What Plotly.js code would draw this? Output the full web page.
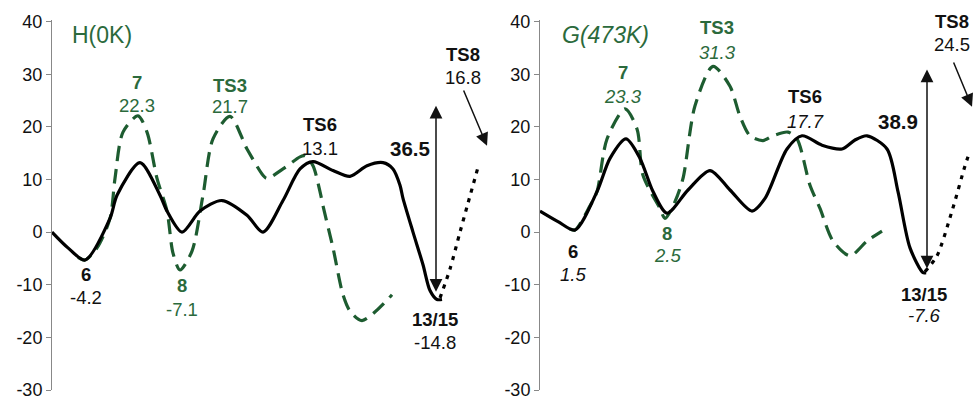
<!DOCTYPE html>
<html>
<head>
<meta charset="utf-8">
<script src="https://cdn.plot.ly/plotly-3.0.1.min.js"></script>
<style>html,body{margin:0;padding:0;background:#fff}#chart{width:974px;height:400px}</style>
</head>
<body>
<div id="chart"></div>
<script>
// ---- Left panel H(0K): reaction coordinate (arbitrary units) and energies ----
var hBlackX = [0,16,33,58,65,88,108,115,130,148,170,195,211,231,248,261,281,298,315,331,341,348,351,361,371,378,385,390];
var hBlackY = [0,-3,-5.3,2.6,7,13.2,7,4,0,4,6,3.2,0,6,12,13.4,11.7,10.6,12.6,13.2,12,8.9,6.4,0,-6.2,-11.1,-12.8,-12.8];
var hDotX = [388,398,408,416,426];
var hDotY = [-12.5,-7,0,5.5,12.3];
var hGreenX = [26,33,45,58,63,71,86,95,105,115,121,128,140,151,161,178,195,211,215,231,248,253,261,268,271,281,291,298,310,340];
var hGreenY = [-4.8,-5.3,-3,2.6,10.2,19,22.1,19,10.2,4,-4,-7.2,-3.6,7,17.7,22,15.8,10.8,10.2,12,14.3,14.5,12.6,7.7,5,-3,-11.9,-15,-16.8,-11.9];

// ---- Right panel G(473K) ----
var gBlackX = [0,18,35,57,70,86,100,113,127,148,170,190,212,225,247,262,282,302,315,327,347,358,370,383,386];
var gBlackY = [4.0,2,0.4,7.7,14,17.7,14,7.7,3.6,8,11.7,8,4,6.4,15.8,18.3,16.5,15.8,17.5,18.3,15.8,7.7,-3,-7.7,-7.7];
var gDotX = [385,397,412,425,428];
var gDotY = [-7.5,-4.5,4,12.6,14.3];
var gGreenX = [30,35,50,57,67,85,97,103,120,125,135,143,155,173,190,200,210,223,233,248,257,270,280,293,310,327,342];
var gGreenY = [0.6,0.4,5,7.7,17.7,23.4,19.6,10.8,4.5,2.6,5.8,10.2,24,31.5,27.7,22,18.3,17.4,18.3,19,17.7,8.9,4.5,-1.7,-4.5,-1.7,0.2];

var yTicks = [-30,-20,-10,0,10,20,30,40];
var tickText = ['-30','-20','-10','0','10','20','30','40'];

var labelsH = [
  {name:'7', val:'22.3', x:85, yn:28.5, yv:24.0, c:'g'},
  {name:'TS3', val:'21.7', x:178, yn:27.9, yv:23.8, c:'g'},
  {name:'TS6', val:'13.1', x:268, yn:20.4, yv:15.8, c:'k'},
  {name:'TS8', val:'16.8', x:411, yn:33.8, yv:29.4, c:'k'},
  {name:'6', val:'-4.2', x:34, yn:-8.1, yv:-12.5, c:'k'},
  {name:'8', val:'-7.1', x:130, yn:-10.2, yv:-14.7, c:'g'},
  {name:'13/15', val:'-14.8', x:383, yn:-16.6, yv:-20.9, c:'k'}
];
var labelsG = [
  {name:'7', val:'23.3', x:83, yn:30.4, yv:25.8, c:'g', it:true},
  {name:'TS3', val:'31.3', x:177, yn:38.9, yv:34.2, c:'g', it:true},
  {name:'TS6', val:'17.7', x:265, yn:25.7, yv:21.1, c:'k', it:true},
  {name:'TS8', val:'24.5', x:412, yn:40.0, yv:35.7, c:'k', it:false},
  {name:'6', val:'1.5', x:33, yn:-3.6, yv:-8.1, c:'k', it:true},
  {name:'8', val:'2.5', x:127, yn:-0.2, yv:-4.5, c:'g', it:true},
  {name:'13/15', val:'-7.6', x:384, yn:-11.9, yv:-15.8, c:'k', it:true}
];

var GREEN = '#1d5c30';
var GTEXT = '#2b6a3c';
var FONT = 'Liberation Sans, Arial, Helvetica, sans-serif';

function curve(x, y, xa, ya, color, dash) {
  return {x:x, y:y, xaxis:xa, yaxis:ya, type:'scatter', mode:'lines',
    line:{color:color, width:3.2, dash:dash, shape:'spline', smoothing:0.8},
    hoverinfo:'skip', showlegend:false};
}

var data = [
  curve(hGreenX, hGreenY, 'x', 'y', GREEN, '15px,8px'),
  curve(hBlackX, hBlackY, 'x', 'y', '#000', 'solid'),
  curve(hDotX, hDotY, 'x', 'y', '#000', '4px,6px'),
  curve(gGreenX, gGreenY, 'x2', 'y2', GREEN, '15px,8px'),
  curve(gBlackX, gBlackY, 'x2', 'y2', '#000', 'solid'),
  curve(gDotX, gDotY, 'x2', 'y2', '#000', '4px,6px')
];

var ann = [];
function addLabels(list, xr, yr) {
  list.forEach(function(l){
    var col = l.c === 'g' ? GTEXT : '#111';
    ann.push({xref:xr, yref:yr, x:l.x, y:l.yn, text:'<b>'+l.name+'</b>', showarrow:false,
      font:{family:FONT, size:18.5, color:col}, xanchor:'center', yanchor:'middle'});
    ann.push({xref:xr, yref:yr, x:l.x, y:l.yv, text: l.it ? '<i>'+l.val+'</i>' : l.val, showarrow:false,
      font:{family:FONT, size:18.5, color:col}, xanchor:'center', yanchor:'middle'});
  });
}
addLabels(labelsH, 'x', 'y');
addLabels(labelsG, 'x2', 'y2');

ann.push({xref:'x', yref:'y', x:18, y:37.5, text:'H(0K)', showarrow:false, xanchor:'left', yanchor:'middle',
  font:{family:FONT, size:23, color:GTEXT}});
ann.push({xref:'x2', yref:'y2', x:20, y:37.5, text:'<i>G(473K)</i>', showarrow:false, xanchor:'left', yanchor:'middle',
  font:{family:FONT, size:23, color:GTEXT}});
ann.push({xref:'x', yref:'y', x:358, y:15.8, text:'<b>36.5</b>', showarrow:false, font:{family:FONT, size:20.5, color:'#111'}});
ann.push({xref:'x2', yref:'y2', x:358, y:21.1, text:'<b>38.9</b>', showarrow:false, font:{family:FONT, size:20.5, color:'#111'}});
ann.push({xref:'x', yref:'y', axref:'x', ayref:'y', x:384, y:24, ax:384, ay:-11.6, text:'', showarrow:true,
  arrowhead:2, arrowside:'end+start', arrowsize:1.7, arrowwidth:1.5, arrowcolor:'#111'});
ann.push({xref:'x2', yref:'y2', axref:'x2', ayref:'y2', x:387, y:30.9, ax:387, ay:-7.2, text:'', showarrow:true,
  arrowhead:2, arrowside:'end+start', arrowsize:1.7, arrowwidth:1.5, arrowcolor:'#111'});
ann.push({xref:'x', yref:'y', axref:'x', ayref:'y', x:435, y:16.4, ax:411, ay:27.2, text:'', showarrow:true,
  arrowhead:2, arrowsize:1.7, arrowwidth:1.5, arrowcolor:'#111'});
ann.push({xref:'x2', yref:'y2', axref:'x2', ayref:'y2', x:432, y:23.8, ax:413, ay:32.5, text:'', showarrow:true,
  arrowhead:2, arrowsize:1.7, arrowwidth:1.5, arrowcolor:'#111'});

var yaxisBase = {range:[-30,40.3], tickvals:yTicks, ticktext:tickText, showgrid:false, zeroline:false,
  showline:true, linecolor:'#888', linewidth:1, ticks:'outside', ticklen:5, tickcolor:'#888',
  ticklabeloverflow:'allow',
  tickfont:{family:FONT, size:18, color:'#111'}, fixedrange:true};
var xaxisBase = {showgrid:false, zeroline:false, showline:false, showticklabels:false, ticks:'', fixedrange:true};

var layout = {
  width:974, height:400,
  margin:{l:52, r:0, t:20, b:10},
  paper_bgcolor:'#fff', plot_bgcolor:'rgba(0,0,0,0)',
  xaxis: Object.assign({}, xaxisBase, {domain:[0, 440/922], range:[0,440]}),
  xaxis2: Object.assign({}, xaxisBase, {domain:[488/922, 1], range:[0,434]}),
  yaxis: Object.assign({}, yaxisBase, {anchor:'x'}),
  yaxis2: Object.assign({}, yaxisBase, {anchor:'x2'}),
  annotations: ann,
  showlegend:false
};

Plotly.newPlot('chart', data, layout, {displayModeBar:false, staticPlot:true});
</script>
</body>
</html>
